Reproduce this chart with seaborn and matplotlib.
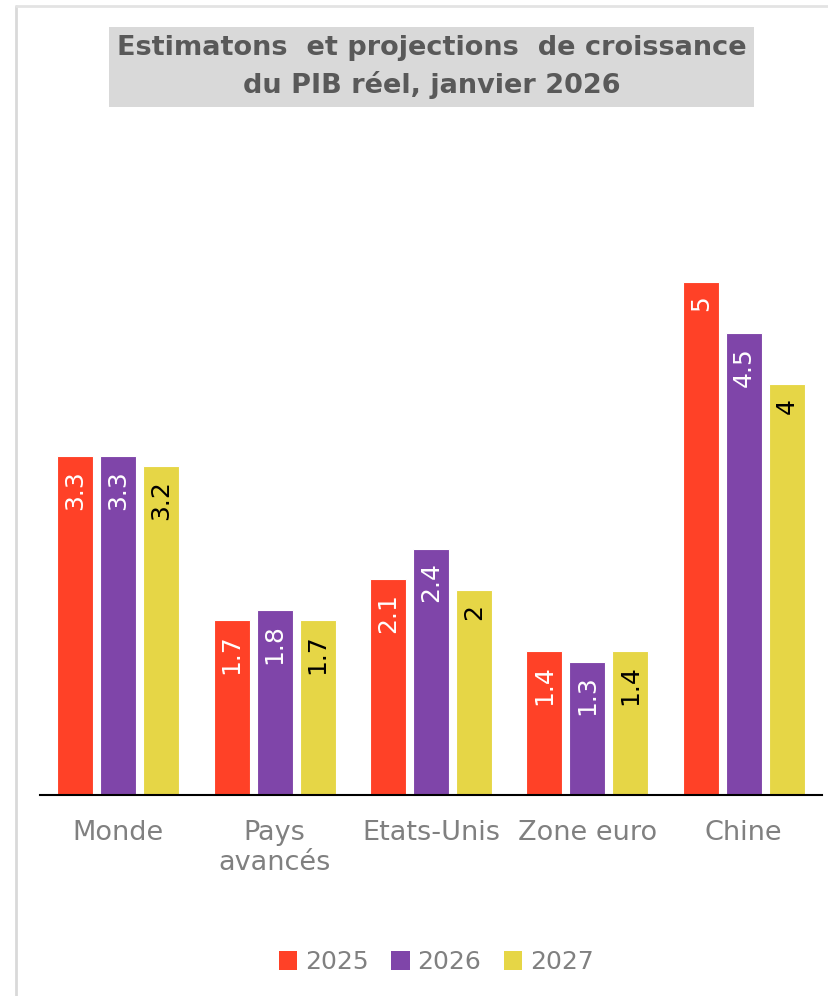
import matplotlib
matplotlib.use("Agg")
import matplotlib.pyplot as plt
from matplotlib.lines import Line2D
from matplotlib.patches import Rectangle
import seaborn as sns
import pandas as pd

categories = ["Monde", "Pays\navancés", "Etats-Unis", "Zone euro", "Chine"]
years = ["2025", "2026", "2027"]
v2025 = [3.3, 1.7, 2.1, 1.4, 5]
v2026 = [3.3, 1.8, 2.4, 1.3, 4.5]
v2027 = [3.2, 1.7, 2.0, 1.4, 4.0]
label_2025 = ["3.3", "1.7", "2.1", "1.4", "5"]
label_2026 = ["3.3", "1.8", "2.4", "1.3", "4.5"]
label_2027 = ["3.2", "1.7", "2", "1.4", "4"]
colors = ["#FF4127", "#7F45A9", "#E6D646"]
label_colors = ["white", "white", "black"]

rows = []
for yr, vals in zip(years, [v2025, v2026, v2027]):
    for c, v in zip(categories, vals):
        rows.append({"cat": c, "year": yr, "val": v})
df = pd.DataFrame(rows)

sns.set_theme(style="white")
plt.rcParams["font.family"] = ["DejaVu Sans"]

fig = plt.figure(figsize=(8.29, 9.96), dpi=100)
ax = fig.add_axes([40 / 829, (996 - 795) / 996, (822 - 40) / 829, 616 / 996])

sns.barplot(data=df, x="cat", y="val", hue="year", palette=colors,
            width=0.825, gap=0.16, ax=ax, legend=False, errorbar=None,
            edgecolor="white", linewidth=0.8, saturation=1)

ax.set_ylim(0, 6)
ax.set_xlim(-0.5, 4.5)
ax.set_xlabel("")
ax.set_ylabel("")
ax.set_yticks([])
for s in ["top", "right", "left"]:
    ax.spines[s].set_visible(False)
ax.spines["bottom"].set_color("black")
ax.spines["bottom"].set_linewidth(1.5)
ax.tick_params(axis="x", length=0, pad=18, labelsize=19.5, labelcolor="#808080")
for t in ax.get_xticklabels():
    t.set_linespacing(1.2)
    t.set_verticalalignment("top")

labels_all = [label_2025, label_2026, label_2027]
for i, cont in enumerate(ax.containers):
    for bar, lab in zip(cont, labels_all[i]):
        x = bar.get_x() + bar.get_width() / 2
        top = bar.get_height()
        ax.annotate(lab, (x, top), xytext=(0, -10), textcoords="offset points",
                    rotation=90, ha="center", va="top", fontsize=18,
                    color=label_colors[i])

handles = [Rectangle((0, 0), 1, 1, facecolor=c, edgecolor="none") for c in colors]
fig.legend(handles, years, loc="center", bbox_to_anchor=(0.526, 0.034), ncol=3,
           frameon=False, handlelength=0.75, handleheight=0.75, handletextpad=0.3,
           columnspacing=0.9, fontsize=18, labelcolor="#808080")

# title box
fig.text(431.5 / 829, 1 - 67 / 996,
         "Estimatons  et projections  de croissance\ndu PIB réel, janvier 2026",
         ha="center", va="center", fontsize=19.5, fontweight="bold", color="#595959",
         linespacing=1.45,
         bbox=dict(boxstyle="square,pad=0.3", facecolor="#D9D9D9", edgecolor="none"))

# outer frame lines
fig.add_artist(Line2D([16 / 829, 16 / 829], [0, 1 - 6 / 996], transform=fig.transFigure,
                      color="#D9D9D9", lw=2))
fig.add_artist(Line2D([16 / 829, 1], [1 - 6 / 996, 1 - 6 / 996], transform=fig.transFigure,
                      color="#E3E3E3", lw=2))

fig.savefig("out.png", dpi=100, facecolor="white")
